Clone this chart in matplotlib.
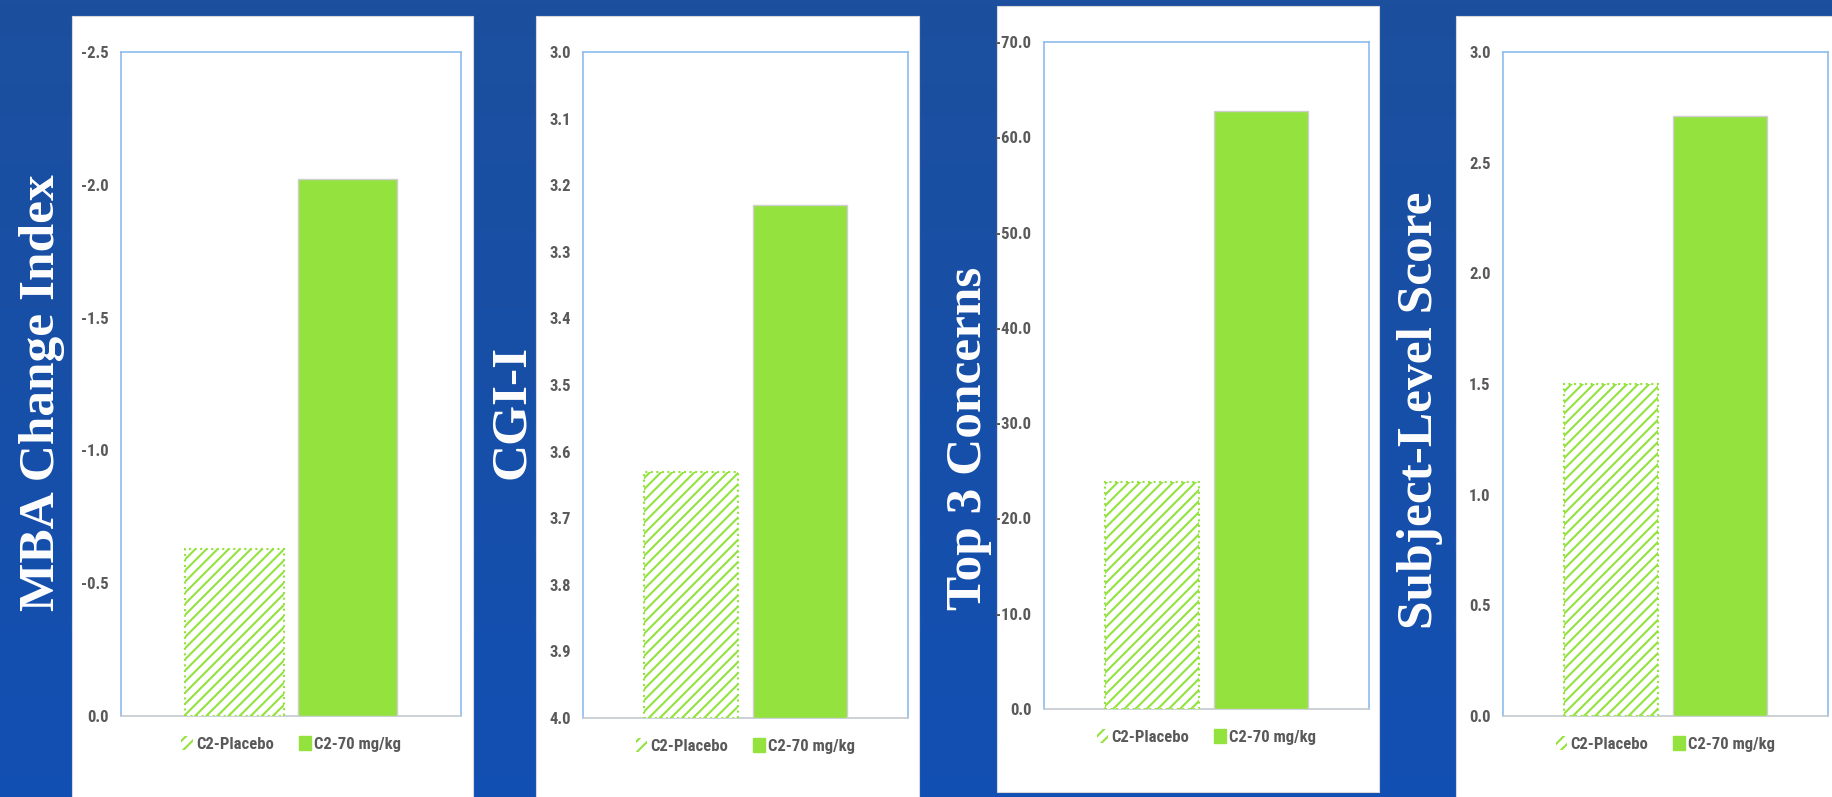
import numpy as np
import matplotlib.pyplot as plt
from matplotlib.patches import Rectangle, Patch
from matplotlib import font_manager

# Two treatment groups shown in every panel
groups = ['C2-Placebo', 'C2-70 mg/kg']
titles = ['MBA Change Index', 'CGI-I', 'Top 3 Concerns', 'Subject-Level Score']

# Endpoint values (placebo, 70 mg/kg)
mba_values = [-0.63, -2.02]
cgi_values = [3.63, 3.23]
top3_values = [-23.8, -62.8]
subject_values = [1.50, 2.71]

# Tick values, first entry is the baseline the bars grow from
mba_ticks = [0.0, -0.5, -1.0, -1.5, -2.0, -2.5]
cgi_ticks = [4.0, 3.9, 3.8, 3.7, 3.6, 3.5, 3.4, 3.3, 3.2, 3.1, 3.0]
top3_ticks = [0.0, -10.0, -20.0, -30.0, -40.0, -50.0, -60.0, -70.0]
subject_ticks = [0.0, 0.5, 1.0, 1.5, 2.0, 2.5, 3.0]

W, H = 1832, 797
GREEN = '#93e23e'
GRAY = '#595959'

# pick a narrow sans for the small labels if one is around
installed = {f.name for f in font_manager.fontManager.ttflist}
TICK_FONT = 'Roboto'
for name in ['Liberation Sans Narrow', 'Roboto Condensed', 'Open Sans Condensed']:
    if name in installed:
        TICK_FONT = name
        break

plt.rcParams['hatch.linewidth'] = 1.5


# pixel box (left, top, right, bottom) -> figure fraction rect
def px_box(x0, y0, x1, y1):
    return [x0 / W, 1 - y1 / H, (x1 - x0) / W, (y1 - y0) / H]


def fmt(v):
    s = '%.1f' % v
    return '0.0' if s == '-0.0' else s


def draw_panel(fig, card, box, label_xy, title, values, ticks):
    # white card behind the chart
    c = px_box(*card)
    fig.add_artist(Rectangle((c[0], c[1]), c[2], c[3], transform=fig.transFigure,
                             facecolor='white', edgecolor='#d8d8d8', lw=0.8, zorder=0))
    ax = fig.add_axes(px_box(*box))
    base = ticks[0]
    heights = np.array(values) - base
    xs = [-0.167, 0.167]
    ax.bar(xs[0], heights[0], bottom=base, width=0.29, facecolor='white',
           edgecolor=GREEN, hatch='///', linestyle=':', linewidth=1.5, zorder=3)
    ax.bar(xs[1], heights[1], bottom=base, width=0.29, facecolor=GREEN,
           edgecolor='#cfcfcf', linewidth=1.0, zorder=3)
    ax.set_xlim(-0.5, 0.5)
    ax.set_ylim(ticks[0], ticks[-1])
    ax.set_yticks(ticks)
    ax.set_yticklabels([fmt(t) for t in ticks], family=TICK_FONT,
                       fontsize=12, fontweight='bold', color=GRAY)
    ax.set_xticks([])
    ax.tick_params(axis='y', length=0, pad=9)
    for side in ['left', 'top', 'right']:
        ax.spines[side].set_color('#8cbcec')
        ax.spines[side].set_linewidth(1.2)
    ax.spines['bottom'].set_color('#c4cad2')
    ax.spines['bottom'].set_linewidth(1.2)

    handles = [Patch(facecolor='white', edgecolor=GREEN, hatch='///', linewidth=0),
               Patch(facecolor=GREEN, edgecolor=GREEN)]
    leg = ax.legend(handles, groups, loc='upper center', bbox_to_anchor=(0.5, -0.008),
                    ncol=2, frameon=False, handlelength=0.7, handleheight=0.9,
                    handletextpad=0.2, columnspacing=1.5,
                    prop={'family': TICK_FONT, 'size': 12, 'weight': 'bold'})
    for t in leg.get_texts():
        t.set_color(GRAY)

    # big white axis title on the blue strip
    fig.text(label_xy[0] / W, 1 - label_xy[1] / H, title, rotation=90,
             ha='center', va='center', color='white', fontsize=37,
             family='Liberation Serif', fontweight='bold')
    return ax


def main():
    fig = plt.figure(figsize=(W / 100, H / 100), dpi=100)

    # blue gradient background
    bg = fig.add_axes([0, 0, 1, 1], zorder=-10)
    grad = np.linspace(0, 1, 256).reshape(-1, 1)
    top = np.array([0.11, 0.31, 0.62])
    bottom = np.array([0.07, 0.31, 0.70])
    img = top + (bottom - top) * grad[:, :, None]
    bg.imshow(img, aspect='auto', extent=[0, 1, 0, 1], origin='upper')
    bg.axis('off')

    draw_panel(fig, (72, 16, 473, 800), (121, 52, 461, 716), (42, 393),
               titles[0], mba_values, mba_ticks)
    draw_panel(fig, (536, 16, 919, 800), (583, 52, 908, 718), (512, 412),
               titles[1], cgi_values, cgi_ticks)
    draw_panel(fig, (997, 6, 1379, 792), (1044, 42, 1369, 709), (969, 438),
               titles[2], top3_values, top3_ticks)
    draw_panel(fig, (1456, 16, 1840, 800), (1503, 52, 1828, 716), (1420, 410),
               titles[3], subject_values, subject_ticks)

    plt.savefig('out.png', dpi=100)


if __name__ == '__main__':
    main()
